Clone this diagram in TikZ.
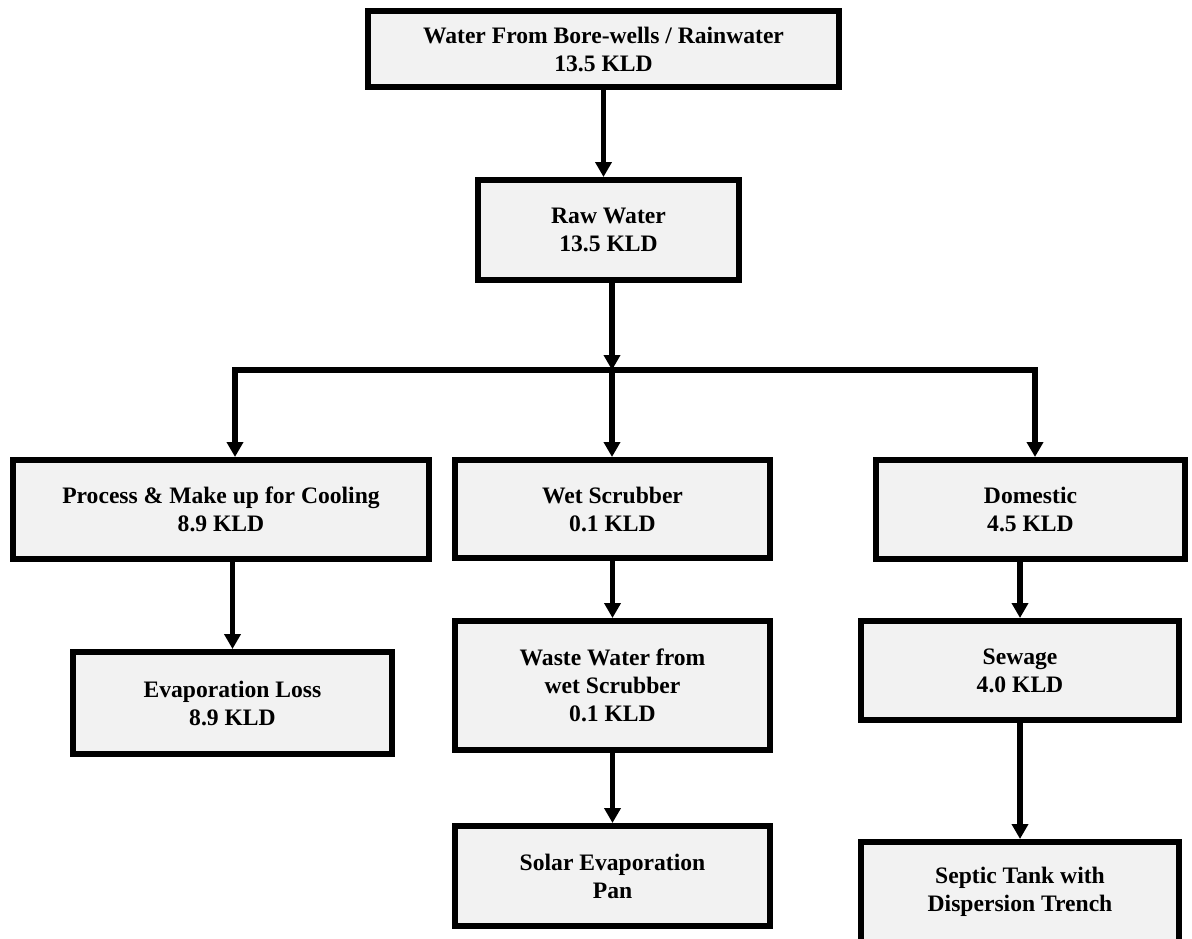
\documentclass[tikz,border=0pt]{standalone}
\usepackage{fontspec}
\setmainfont{Liberation Serif}
\usetikzlibrary{arrows.meta}
\definecolor{boxgray}{HTML}{F2F2F2}
\begin{document}
\begin{tikzpicture}[x=0.5pt,y=-0.5pt,
  box/.style={draw=black, line width=3pt, fill=boxgray, align=center, inner sep=0pt,
    font=\fontsize{11.8}{14}\selectfont\bfseries},
  tip/.tip={Triangle[width=8pt,length=7.5pt]},
  conn/.style={line width=2.8pt, line join=miter, -tip},
  plain/.style={line width=2.8pt, line join=miter},
]
\useasboundingbox (0,0) rectangle (1192,938);
\clip (0,0) rectangle (1192,938);

\node[box, minimum width=235.5pt, minimum height=38pt] (src) at (603.5,49)
  {Water From Bore-wells / Rainwater\\13.5 KLD};
\node[box, minimum width=130.5pt, minimum height=50pt] (raw) at (608.5,230)
  {Raw Water\\13.5 KLD};
\node[box, minimum width=208pt, minimum height=49.5pt] (proc) at (221,509.5)
  {Process \& Make up for Cooling\\8.9 KLD};
\node[box, minimum width=157.5pt, minimum height=49pt] (wet) at (612.5,509)
  {Wet Scrubber\\0.1 KLD};
\node[box, minimum width=154.5pt, minimum height=49.5pt] (dom) at (1030.5,509.5)
  {Domestic\\4.5 KLD};
\node[box, minimum width=159.5pt, minimum height=51pt] (evap) at (232.5,703)
  {Evaporation Loss\\8.9 KLD};
\node[box, minimum width=157.5pt, minimum height=64.5pt] (ww) at (612.5,685.5)
  {Waste Water from\\wet Scrubber\\0.1 KLD};
\node[box, minimum width=157.5pt, minimum height=50pt] (solar) at (612.5,876)
  {Solar Evaporation\\Pan};
\node[box, minimum width=159pt, minimum height=49.5pt] (sew) at (1020,670.5)
  {Sewage\\4.0 KLD};
\node[box, minimum width=159pt, minimum height=50pt] (sep) at (1020,892)
  {Septic Tank with\\Dispersion Trench};

\coordinate (L) at (235,370);
\coordinate (J) at (612,370);
\coordinate (R) at (1035,370);

\draw[conn] (src.south) -- (src.south |- raw.north);
\draw[conn] (J |- raw.south) -- (J);
\draw[plain, tip-tip] (L |- proc.north) -- (L) -- (R) -- (R |- dom.north);
\draw[conn] (J) -- (J |- wet.north);
\draw[conn] (evap.north |- proc.south) -- (evap.north);
\draw[conn] (wet.south) -- (ww.north);
\draw[conn] (ww.south) -- (solar.north);
\draw[conn] (sew.north |- dom.south) -- (sew.north);
\draw[conn] (sew.south) -- (sep.north);
\end{tikzpicture}
\end{document}
